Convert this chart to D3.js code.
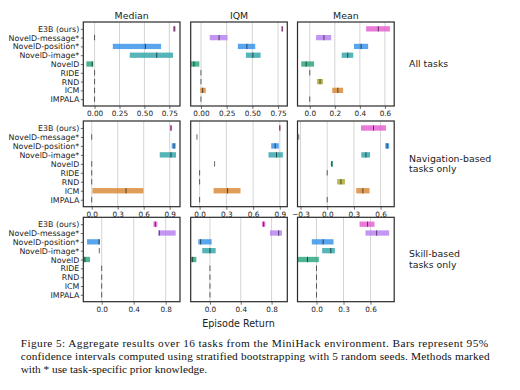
<!DOCTYPE html>
<html>
<head>
<meta charset="utf-8">
<script src="https://cdn.jsdelivr.net/npm/d3@7"></script>
<style>
  body { margin: 0; background: #fff; }
  svg { display: block; }
  text { font-family: "DejaVu Sans", sans-serif; fill: #222; }
  .caption { font-family: "Liberation Serif", "Times New Roman", serif; fill: #111; }
</style>
</head>
<body>
<script>
const methods = ['E3B (ours)', 'NovelD-message*', 'NovelD-position*', 'NovelD-image*', 'NovelD', 'RIDE', 'RND', 'ICM', 'IMPALA']
const colors = ['#e559d0', '#b57cf0', '#2f8fe8', '#2aa3a8', '#23a07a', '#4f6fc8', '#a8a52a', '#d8842e', '#888888']
const metrics = ['Median', 'IQM', 'Mean']
const groups = [['All tasks'], ['Navigation-based', 'tasks only'], ['Skill-based', 'tasks only']]

// [lower, point, upper] per method, in the order of `methods`
const allMedian = [[0.787, 0.80, 0.813], [0, 0, 0], [0.183, 0.51, 0.667], [0.353, 0.623, 0.787], [-0.083, -0.023, -0.013], [0, 0, 0], [0, 0, 0], [0, 0, 0], [0, 0, 0]]
const allIqm = [[0.783, 0.79, 0.80], [0.085, 0.176, 0.258], [0.359, 0.447, 0.528], [0.437, 0.505, 0.58], [-0.098, -0.068, -0.016], [0, 0, 0], [0, 0, 0], [-0.007, 0.016, 0.046], [0, 0, 0]]
const allMean = [[0.45, 0.547, 0.64], [0.05, 0.113, 0.171], [0.353, 0.41, 0.466], [0.255, 0.303, 0.347], [-0.068, -0.029, 0.034], [0, 0, 0], [0.058, 0.082, 0.105], [0.179, 0.224, 0.266], [0, 0, 0]]

const navMedian = [[0.904, 0.915, 0.927], [0, 0, 0], [0.923, 0.95, 0.969], [0.785, 0.915, 0.973], [0, 0, 0], [0, 0, 0], [0, 0, 0], [0.008, 0.396, 0.596], [0, 0, 0]]
const navIqm = [[0.892, 0.90, 0.907], [-0.03, -0.03, -0.03], [0.803, 0.848, 0.889], [0.773, 0.863, 0.934], [0.168, 0.168, 0.168], [0, 0, 0], [0, 0, 0], [0.157, 0.314, 0.459], [0, 0, 0]]
const navMean = [[0.38, 0.52, 0.66], [-0.32, -0.32, -0.32], [0.652, 0.674, 0.697], [0.383, 0.435, 0.482], [0.041, 0.052, 0.064], [0, 0, 0], [0.112, 0.154, 0.199], [0.326, 0.401, 0.476], [0, 0, 0]]

const skillMedian = [[0.646, 0.671, 0.696], [0.708, 0.72, 0.925], [-0.183, -0.033, -0.021], [-0.03, -0.03, -0.03], [-0.225, -0.21, -0.146], [0, 0, 0], [0, 0, 0], [0, 0, 0], [0, 0, 0]]
const skillIqm = [[0.675, 0.697, 0.719], [0.779, 0.892, 0.935], [-0.152, -0.121, 0.022], [-0.1, 0.0, 0.074], [-0.251, -0.225, -0.177], [0, 0, 0], [0, 0, 0], [0, 0, 0], [0, 0, 0]]
const skillMean = [[0.478, 0.567, 0.644], [0.544, 0.668, 0.807], [-0.052, 0.074, 0.189], [0.063, 0.159, 0.204], [-0.207, -0.1, 0.026], [0, 0, 0], [0, 0, 0], [0, 0, 0], [0, 0, 0]]

const panelData = [[allMedian, allIqm, allMean], [navMedian, navIqm, navMean], [skillMedian, skillIqm, skillMean]]

// axis limits and ticks
const xLimits = [
  [[-0.113, 0.857], [-0.10, 0.84], [-0.098, 0.674]],
  [[-0.097, 1.019], [-0.10, 0.984], [-0.334, 0.753]],
  [[-0.23, 0.979], [-0.25, 1.004], [-0.211, 0.863]]
]
const xTicks = [
  [[0, 0.25, 0.5, 0.75], [0, 0.25, 0.5, 0.75], [0, 0.2, 0.4, 0.6]],
  [[0, 0.3, 0.6, 0.9], [0, 0.3, 0.6, 0.9], [-0.3, 0, 0.3, 0.6]],
  [[0, 0.4, 0.8], [0, 0.4, 0.8], [0, 0.3, 0.6]]
]
const tickFormats = [['.2f', '.2f', '.1f'], ['.1f', '.1f', '.1f'], ['.1f', '.1f', '.1f']]

const config = {
  width: 520,
  height: 390,
  cols: [[83.3, 180], [190.7, 287.3], [297.5, 394.2]],
  rows: [[22, 106], [121, 206.7], [217.3, 301.7]],
  barHeight: 0.6
}

const svg = d3.select('body').append('svg')
  .attr('width', config.width)
  .attr('height', config.height)

const fmtTick = f => {
  const base = d3.format(f)
  return v => base(v).replace('-', '\u2212')
}

panelData.forEach((rowData, r) => {
  const [top, bottom] = config.rows[r]
  const y = d3.scaleLinear().domain([-0.78, methods.length - 0.22]).range([top, bottom])
  const step = y(1) - y(0)

  rowData.forEach((data, c) => {
    const [left, right] = config.cols[c]
    const x = d3.scaleLinear().domain(xLimits[r][c]).range([left, right])
    const g = svg.append('g')

    // grid
    g.selectAll('.grid').data(xTicks[r][c]).enter().append('line')
      .attr('x1', d => x(d)).attr('x2', d => x(d))
      .attr('y1', top).attr('y2', bottom)
      .attr('stroke', '#cfcfcf').attr('stroke-width', 0.9)

    // interval bars
    g.selectAll('.bar').data(data).enter().append('rect')
      .attr('x', d => x(d[0]))
      .attr('width', d => x(d[2]) - x(d[0]))
      .attr('y', (d, i) => y(i) - step * config.barHeight / 2)
      .attr('height', step * config.barHeight)
      .attr('fill', (d, i) => colors[i])
      .attr('fill-opacity', 0.8)

    // point estimates
    g.selectAll('.pt').data(data).enter().append('line')
      .attr('x1', d => x(d[1])).attr('x2', d => x(d[1]))
      .attr('y1', (d, i) => y(i) - step * config.barHeight / 2)
      .attr('y2', (d, i) => y(i) + step * config.barHeight / 2)
      .attr('stroke', '#000').attr('stroke-opacity', 0.6).attr('stroke-width', 1)

    // x axis
    const xAxis = g.append('g')
      .attr('transform', `translate(0,${bottom})`)
      .call(d3.axisBottom(x).tickValues(xTicks[r][c]).tickFormat(fmtTick(tickFormats[r][c])).tickSize(3).tickPadding(2))
    xAxis.select('.domain').remove()
    xAxis.selectAll('text').style('font-size', '7.3px').attr('fill', '#222')
    xAxis.selectAll('line').attr('stroke', '#333').attr('stroke-width', 0.7)

    // y axis labels on first column only
    if (c === 0) {
      const yAxis = g.append('g')
        .attr('transform', `translate(${left},0)`)
        .call(d3.axisLeft(y).tickValues(d3.range(methods.length)).tickFormat(i => methods[i]).tickSize(2.5).tickPadding(1.5))
      yAxis.select('.domain').remove()
      yAxis.selectAll('text').style('font-size', '7.9px').attr('fill', '#222')
      yAxis.selectAll('line').attr('stroke', '#333').attr('stroke-width', 0.7)
    }

    // frame
    g.append('rect')
      .attr('x', left).attr('y', top)
      .attr('width', right - left).attr('height', bottom - top)
      .attr('fill', 'none').attr('stroke', '#2a2a2a').attr('stroke-width', 1.2)

    if (r === 0) {
      svg.append('text')
        .attr('x', (left + right) / 2).attr('y', 19)
        .attr('text-anchor', 'middle')
        .style('font-size', '9.4px')
        .text(metrics[c])
    }
  })

  // group label on the right
  const lines = groups[r]
  const mid = (top + bottom) / 2
  const label = svg.append('text')
    .attr('x', 409)
    .style('font-size', '9.4px')
  lines.forEach((t, k) => {
    label.append('tspan')
      .attr('x', 409)
      .attr('y', mid + 3.2 + (k - (lines.length - 1) / 2) * 10.8)
      .text(t)
  })
})

svg.append('text')
  .attr('x', 238.5).attr('y', 326.5)
  .attr('text-anchor', 'middle')
  .style('font-size', '9.6px')
  .text('Episode Return')

const caption = [
  'Figure 5: Aggregate results over 16 tasks from the MiniHack environment. Bars represent 95%',
  'confidence intervals computed using stratified bootstrapping with 5 random seeds. Methods marked',
  'with * use task-specific prior knowledge.'
]
caption.forEach((t, k) => {
  const txt = svg.append('text')
    .attr('class', 'caption')
    .attr('x', 20.7)
    .attr('y', 346.5 + k * 13.2)
    .style('font-size', '11.3px')
    .text(t)
  if (k < 2) txt.attr('textLength', k === 0 ? 467.5 : 469).attr('lengthAdjust', 'spacing')
})
</script>
</body>
</html>
